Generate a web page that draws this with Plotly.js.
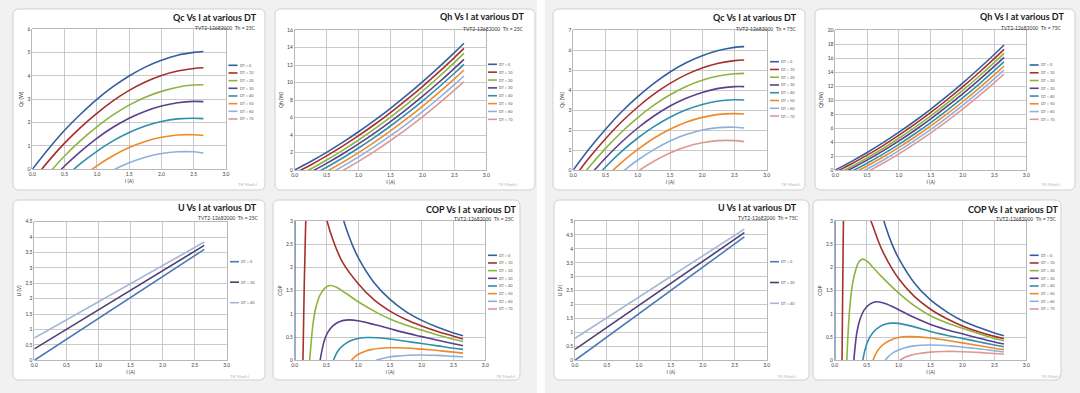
<!DOCTYPE html>
<html><head><meta charset="utf-8">
<script src="https://cdn.plot.ly/plotly-3.0.1.min.js"></script>
<style>html,body{margin:0;padding:0;background:#f2f2f2;}#chart{width:1080px;height:393px;}</style>
</head><body><div id="chart"></div>
<script>
// ---------- DATA ----------
const dtLabels = ['DT = 0','DT = 10','DT = 20','DT = 30','DT = 40','DT = 50','DT = 60','DT = 70'];
const uLabels = ['DT = 0','DT = 20','DT = 40'];
const I_grid = [0,0.25,0.5,0.75,1.0,1.25,1.5,1.75,2.0,2.25,2.5,2.65];
const I_u = [0,0.5,1.0,1.5,2.0,2.5,2.65];

// Qc, Th = 25C
const qc25_dt0  = [0,0.87,1.67,2.37,3.00,3.54,4.00,4.38,4.67,4.89,5.01,5.05];
const qc25_dt10 = [-0.50,0.35,1.12,1.80,2.40,2.93,3.38,3.74,4.02,4.21,4.32,4.35];
const qc25_dt20 = [-1.02,-0.19,0.57,1.24,1.82,2.33,2.75,3.09,3.34,3.52,3.61,3.62];
const qc25_dt30 = [-1.38,-0.58,0.14,0.77,1.33,1.80,2.19,2.49,2.71,2.85,2.91,2.90];
const qc25_dt40 = [-1.83,-1.06,-0.36,0.25,0.77,1.22,1.58,1.86,2.05,2.16,2.19,2.17];
const qc25_dt50 = [-2.39,-1.63,-0.95,-0.36,0.15,0.58,0.93,1.19,1.37,1.47,1.48,1.45];
const qc25_dt60 = [-2.90,-2.17,-1.51,-0.94,-0.45,-0.04,0.28,0.52,0.68,0.75,0.75,0.70];
const qc25_dt70 = [-3.65,-2.93,-2.30,-1.75,-1.28,-0.90,-0.60,-0.38,-0.24,-0.19,-0.22,-0.28];

// Qh, Th = 25C
const qh25_dt0  = [0,0.97,2.02,3.15,4.37,5.67,7.05,8.52,10.07,11.70,13.41,14.48];
const qh25_dt10 = [-0.37,0.58,1.61,2.73,3.92,5.20,6.57,8.01,9.54,11.15,12.85,13.90];
const qh25_dt20 = [-0.82,0.12,1.14,2.24,3.43,4.70,6.05,7.48,9.00,10.60,12.28,13.33];
const qh25_dt30 = [-1.13,-0.23,0.76,1.83,2.98,4.21,5.53,6.93,8.41,9.97,11.62,12.65];
const qh25_dt40 = [-1.54,-0.65,0.32,1.37,2.51,3.73,5.03,6.41,7.88,9.43,11.06,12.08];
const qh25_dt50 = [-1.98,-1.11,-0.16,0.87,1.99,3.19,4.47,5.83,7.28,8.81,10.42,11.43];
const qh25_dt60 = [-2.35,-1.51,-0.59,0.41,1.50,2.67,3.92,5.25,6.67,8.17,9.75,10.74];
const qh25_dt70 = [-2.78,-1.97,-1.07,-0.08,0.98,2.13,3.37,4.68,6.08,7.56,9.12,10.10];

// U, Th = 25C
const u25_dt0  = [0,0.68,1.36,2.04,2.72,3.40,3.60];
const u25_dt20 = [0.37,1.00,1.64,2.27,2.91,3.54,3.73];
const u25_dt40 = [0.72,1.31,1.90,2.49,3.07,3.66,3.84];

// COP, Th = 25C
const cop25_dt0_I  = [0,0.05,0.1,0.2,0.3,0.4,0.5,0.6,0.7,0.8,0.9,1.0,1.25,1.5,1.75,2.0,2.25,2.5,2.65];
const cop25_dt0    = [0,53,26.5,13.0,8.5,6.26,4.91,4.01,3.37,2.88,2.51,2.21,1.67,1.31,1.05,0.86,0.71,0.59,0.53];
const cop25_dt10_I = [0.13,0.15,0.17,0.2,0.25,0.3,0.4,0.5,0.6,0.75,1.0,1.25,1.5,1.75,2.0,2.25,2.5,2.65];
const cop25_dt10   = [0,1.6,2.8,3.8,4.3,4.3,3.75,3.05,2.6,2.12,1.65,1.30,1.06,0.88,0.74,0.62,0.52,0.46];
const cop25_dt20_I = [0.236,0.26,0.29,0.33,0.4,0.48,0.55,0.65,0.8,1.0,1.25,1.5,1.75,2.0,2.25,2.5,2.65];
const cop25_dt20   = [0,0.4,0.8,1.12,1.41,1.56,1.61,1.58,1.45,1.26,1.06,0.89,0.76,0.65,0.545,0.455,0.405];
const cop25_dt30_I = [0.40,0.43,0.47,0.52,0.6,0.7,0.85,1.0,1.25,1.5,1.75,2.0,2.25,2.5,2.65];
const cop25_dt30   = [0,0.22,0.44,0.6,0.74,0.83,0.87,0.85,0.77,0.68,0.59,0.51,0.43,0.355,0.315];
const cop25_dt40_I = [0.61,0.65,0.7,0.8,0.9,1.0,1.15,1.3,1.5,1.75,2.0,2.25,2.5,2.65];
const cop25_dt40   = [0,0.13,0.24,0.36,0.43,0.47,0.49,0.485,0.46,0.41,0.36,0.31,0.26,0.235];
const cop25_dt50_I = [0.89,0.95,1.0,1.1,1.2,1.35,1.5,1.75,2.0,2.25,2.5,2.65];
const cop25_dt50   = [0,0.08,0.13,0.19,0.23,0.26,0.27,0.265,0.24,0.21,0.175,0.155];
const cop25_dt60_I = [1.28,1.35,1.45,1.6,1.8,2.0,2.25,2.5,2.65];
const cop25_dt60   = [0,0.03,0.06,0.09,0.11,0.115,0.105,0.085,0.075];
const cop25_dt70_I = [2.0,2.3,2.65];
const cop25_dt70   = [-0.2,-0.15,-0.2];

// Qc, Th = 75C
const qc75_dt0  = [0,1.07,2.04,2.91,3.67,4.33,4.90,5.36,5.71,5.97,6.13,6.17];
const qc75_dt10 = [-0.43,0.62,1.56,2.41,3.15,3.79,4.33,4.77,5.10,5.34,5.47,5.50];
const qc75_dt20 = [-0.87,0.16,1.08,1.90,2.62,3.24,3.76,4.18,4.49,4.70,4.81,4.83];
const qc75_dt30 = [-1.30,-0.30,0.60,1.40,2.10,2.70,3.20,3.59,3.88,4.08,4.17,4.17];
const qc75_dt40 = [-1.71,-0.73,0.15,0.93,1.60,2.17,2.64,3.01,3.28,3.45,3.51,3.50];
const qc75_dt50 = [-2.19,-1.23,-0.38,0.38,1.03,1.59,2.04,2.39,2.63,2.78,2.82,2.80];
const qc75_dt60 = [-2.63,-1.70,-0.87,-0.13,0.50,1.02,1.45,1.77,2.00,2.12,2.14,2.10];
const qc75_dt70 = [-3.12,-2.21,-1.39,-0.68,-0.07,0.44,0.85,1.16,1.36,1.47,1.47,1.42];

// Qh, Th = 75C
const qh75_dt0  = [0,1.20,2.50,3.90,5.40,7.00,8.71,10.51,12.42,14.43,16.54,17.86];
const qh75_dt10 = [-0.32,0.85,2.12,3.49,4.97,6.54,8.22,10.00,11.88,13.86,15.94,17.24];
const qh75_dt20 = [-0.68,0.47,1.72,3.07,4.53,6.08,7.74,9.50,11.36,13.32,15.38,16.67];
const qh75_dt30 = [-0.93,0.19,1.41,2.73,4.15,5.68,7.31,9.04,10.87,12.80,14.83,16.10];
const qh75_dt40 = [-1.33,-0.23,0.97,2.27,3.67,5.18,6.78,8.49,10.30,12.21,14.22,15.48];
const qh75_dt50 = [-1.67,-0.60,0.58,1.85,3.23,4.71,6.29,7.97,9.75,11.63,13.62,14.86];
const qh75_dt60 = [-2.07,-1.01,0.14,1.40,2.76,4.23,5.79,7.45,9.22,11.09,13.06,14.29];
const qh75_dt70 = [-2.44,-1.40,-0.27,0.97,2.31,3.76,5.30,6.95,8.69,10.54,12.49,13.71];

// U, Th = 75C
const u75_dt0  = [0,0.84,1.67,2.51,3.34,4.18,4.43];
const u75_dt20 = [0.39,1.18,1.97,2.76,3.55,4.34,4.58];
const u75_dt40 = [0.79,1.53,2.27,3.01,3.75,4.49,4.71];

// COP, Th = 75C
const cop75_dt0_I  = [0,0.05,0.1,0.2,0.3,0.4,0.5,0.6,0.7,0.8,0.9,1.0,1.25,1.5,1.75,2.0,2.25,2.5,2.65];
const cop75_dt0    = [0,53,26.3,12.9,8.45,6.22,4.88,3.98,3.35,2.87,2.49,2.2,1.66,1.3,1.05,0.85,0.71,0.59,0.53];
const cop75_dt10_I = [0.115,0.125,0.135,0.15,0.2,0.3,0.4,0.5,0.6,0.75,1.0,1.25,1.5,1.75,2.0,2.25,2.5,2.65];
const cop75_dt10   = [0,1.5,2.8,3.5,4.0,4.0,3.6,3.25,2.88,2.35,1.76,1.37,1.1,0.9,0.74,0.615,0.515,0.465];
const cop75_dt20_I = [0.19,0.21,0.24,0.28,0.33,0.38,0.44,0.52,0.6,0.75,1.0,1.25,1.5,1.75,2.0,2.25,2.5,2.65];
const cop75_dt20   = [0,0.6,1.2,1.65,1.95,2.12,2.18,2.12,2.0,1.78,1.45,1.17,0.96,0.81,0.69,0.58,0.47,0.42];
const cop75_dt30_I = [0.30,0.32,0.35,0.4,0.46,0.55,0.65,0.75,0.9,1.0,1.25,1.5,1.75,2.0,2.25,2.5,2.65];
const cop75_dt30   = [0,0.3,0.62,0.9,1.08,1.21,1.26,1.24,1.16,1.09,0.92,0.77,0.66,0.57,0.48,0.395,0.35];
const cop75_dt40_I = [0.44,0.47,0.52,0.6,0.7,0.8,0.9,1.0,1.25,1.5,1.75,2.0,2.25,2.5,2.65];
const cop75_dt40   = [0,0.2,0.42,0.6,0.72,0.78,0.8,0.795,0.72,0.62,0.54,0.47,0.4,0.33,0.29];
const cop75_dt50_I = [0.60,0.64,0.7,0.8,0.9,1.0,1.15,1.3,1.5,1.75,2.0,2.25,2.5,2.65];
const cop75_dt50   = [0,0.13,0.26,0.38,0.45,0.49,0.51,0.505,0.48,0.43,0.375,0.32,0.26,0.23];
const cop75_dt60_I = [0.79,0.84,0.9,1.0,1.1,1.25,1.45,1.65,1.85,2.0,2.25,2.5,2.65];
const cop75_dt60   = [0,0.08,0.15,0.22,0.27,0.31,0.33,0.325,0.305,0.285,0.25,0.205,0.18];
const cop75_dt70_I = [1.02,1.08,1.15,1.3,1.5,1.7,1.9,2.1,2.3,2.5,2.65];
const cop75_dt70   = [0,0.05,0.09,0.14,0.175,0.19,0.19,0.18,0.165,0.145,0.13];

// ---------- STYLE / LAYOUT ----------
const C  = ['#355e9e','#a5302e','#8db43e','#5b3f8a','#2f8fae','#ec8a2c','#8fb0da','#dc9896'];
const CU = ['#4a7ab8','#4c3d73','#a3b5d9'];
const FONT = 'Lato, "Liberation Sans", Arial, sans-serif';

function grid8(ys){ return ys.map((y,i)=>({x:I_grid,y:y,color:C[i],name:dtLabels[i]})); }
function cop8(xs,ys){ return ys.map((y,i)=>({x:xs[i],y:y,color:C[i],name:dtLabels[i]})); }
function u3(ys){ return ys.map((y,i)=>({x:I_u,y:y,color:CU[i],name:uLabels[i],linear:true})); }

const sub25 = 'TVT2-12682000  Th = 25C';
const sub75 = 'TVT2-12682000  Th = 75C';

const panels = [
 {plot:[32.3,29.3,226,169.3], card:[13,9,265,190], yr:[0,6], dt:1, yt:'Qc (W)', title:'Qc Vs I at various DT', tR:258, tY:17, sub:sub25, sR:257, sY:28.5,
  leg:{x:228.5,y0:65.3,dy:7.67}, wm:[258,184], series:grid8([qc25_dt0,qc25_dt10,qc25_dt20,qc25_dt30,qc25_dt40,qc25_dt50,qc25_dt60,qc25_dt70])},
 {plot:[294.7,30,486.3,170], card:[275,9,535,190], yr:[0,16], dt:2, yt:'Qh (W)', title:'Qh Vs I at various DT', tR:524.7, tY:16.7, sub:sub25, sR:524.7, sY:29,
  leg:{x:488,y0:64.3,dy:7.86}, wm:[518,184.3], series:grid8([qh25_dt0,qh25_dt10,qh25_dt20,qh25_dt30,qh25_dt40,qh25_dt50,qh25_dt60,qh25_dt70])},
 {plot:[34.3,221.7,226.7,360.3], card:[13,200,265,380], yr:[0,4.5], dt:0.5, yt:'U (V)', title:'U Vs I at various DT', tR:258.3, tY:207.7, sub:sub25, sR:260, sY:218.3,
  leg:{x:230,y0:261.7,dy:20.5}, wm:[250,376.7], series:u3([u25_dt0,u25_dt20,u25_dt40])},
 {plot:[294.7,221,485.3,360.3], card:[273,200,520,380], yr:[0,3], dt:0.5, yt:'COP', title:'COP Vs I at various DT', tR:518, tY:209, sub:sub25, sR:516, sY:219,
  leg:{x:488,y0:255.3,dy:7.67}, wm:[516,376.7],
  series:cop8([cop25_dt0_I,cop25_dt10_I,cop25_dt20_I,cop25_dt30_I,cop25_dt40_I,cop25_dt50_I,cop25_dt60_I,cop25_dt70_I],
              [cop25_dt0,cop25_dt10,cop25_dt20,cop25_dt30,cop25_dt40,cop25_dt50,cop25_dt60,cop25_dt70])},
 {plot:[573.3,30,766.7,170], card:[553,9,805,190], yr:[0,7], dt:1, yt:'Qc (W)', title:'Qc Vs I at various DT', tR:798, tY:17, sub:sub75, sR:798, sY:29,
  leg:{x:770,y0:61.7,dy:7.76}, wm:[801,184], series:grid8([qc75_dt0,qc75_dt10,qc75_dt20,qc75_dt30,qc75_dt40,qc75_dt50,qc75_dt60,qc75_dt70])},
 {plot:[835.3,30,1026.3,170], card:[815,9,1075,190], yr:[0,20], dt:2, yt:'Qh (W)', title:'Qh Vs I at various DT', tR:1064.7, tY:16.7, sub:sub75, sR:1063, sY:28.3,
  leg:{x:1029.7,y0:65,dy:7.76}, wm:[1061,184.3], series:grid8([qh75_dt0,qh75_dt10,qh75_dt20,qh75_dt30,qh75_dt40,qh75_dt50,qh75_dt60,qh75_dt70])},
 {plot:[575,221,766.7,360.3], card:[554,200,809,380], yr:[0,5], dt:0.5, yt:'U (V)', title:'U Vs I at various DT', tR:798, tY:207.7, sub:sub75, sR:800, sY:218,
  leg:{x:770,y0:261.7,dy:20.8}, wm:[797,376.7], series:u3([u75_dt0,u75_dt20,u75_dt40])},
 {plot:[834.7,221,1026.3,360.3], card:[813,200,1061,380], yr:[0,3], dt:0.5, yt:'COP', title:'COP Vs I at various DT', tR:1059.7, tY:209, sub:sub75, sR:1058, sY:219,
  leg:{x:1029.7,y0:255.3,dy:7.67}, wm:[1061,376.7],
  series:cop8([cop75_dt0_I,cop75_dt10_I,cop75_dt20_I,cop75_dt30_I,cop75_dt40_I,cop75_dt50_I,cop75_dt60_I,cop75_dt70_I],
              [cop75_dt0,cop75_dt10,cop75_dt20,cop75_dt30,cop75_dt40,cop75_dt50,cop75_dt60,cop75_dt70])}
];

const W=1080, H=393;
const px = v => v/W, py = v => 1 - v/H;
function rr(x0,y0,x1,y1,r){
  const X=v=>px(v).toFixed(5), Y=v=>py(v).toFixed(5);
  return `M${X(x0+r)},${Y(y0)} L${X(x1-r)},${Y(y0)} Q${X(x1)},${Y(y0)} ${X(x1)},${Y(y0+r)} L${X(x1)},${Y(y1-r)} Q${X(x1)},${Y(y1)} ${X(x1-r)},${Y(y1)} L${X(x0+r)},${Y(y1)} Q${X(x0)},${Y(y1)} ${X(x0)},${Y(y1-r)} L${X(x0)},${Y(y0+r)} Q${X(x0)},${Y(y0)} ${X(x0+r)},${Y(y0)} Z`;
}

const traces=[], shapes=[], annotations=[];
const layout = {width:W, height:H, margin:{l:0,r:0,t:0,b:0}, paper_bgcolor:'#f1f1f1', plot_bgcolor:'#ffffff',
  showlegend:false, hovermode:false, font:{family:FONT, color:'#404040'}};

// white separator between the two panels
shapes.push({type:'rect', xref:'paper', yref:'paper', x0:px(537), x1:px(545), y0:0, y1:1, fillcolor:'#ffffff', line:{width:0}, layer:'below'});

panels.forEach((p,k)=>{
  const n=k+1, sfx=(n===1?'':String(n));
  const xr='x'+sfx, yr='y'+sfx;
  const axisCommon = {showgrid:true, gridcolor:'#bdbdbd', gridwidth:0.8, showline:true, mirror:true, linecolor:'#a6a6a6', linewidth:0.8,
    zeroline:false, ticks:'', tickfont:{size:5, color:'#404040', family:FONT}, fixedrange:true};
  layout['xaxis'+sfx] = Object.assign({}, axisCommon, {domain:[px(p.plot[0]),px(p.plot[2])], anchor:yr, range:[0,3], dtick:0.5, tick0:0,
    tickformat:'.1f', title:{text:'I (A)', font:{size:5, color:'#404040', family:FONT}, standoff:3}});
  layout['yaxis'+sfx] = Object.assign({}, axisCommon, {domain:[py(p.plot[3]),py(p.plot[1])], anchor:xr, range:p.yr, dtick:p.dt, tick0:0,
    title:{text:p.yt, font:{size:5, color:'#404040', family:FONT}, standoff:3}});

  shapes.push({type:'path', xref:'paper', yref:'paper', path:rr(p.card[0],p.card[1],p.card[2],p.card[3],6),
    fillcolor:'#ffffff', line:{color:'#cfcfcf', width:1}, layer:'below'});

  p.series.forEach((s,j)=>{
    traces.push({type:'scatter', mode:'lines', x:s.x, y:s.y, xaxis:xr, yaxis:yr, name:s.name,
      line:{color:s.color, width:1.6, shape:s.linear?'linear':'spline', smoothing:1}, hoverinfo:'skip'});
    const ly = p.leg.y0 + j*p.leg.dy;
    shapes.push({type:'line', xref:'paper', yref:'paper', x0:px(p.leg.x), x1:px(p.leg.x+9), y0:py(ly), y1:py(ly),
      line:{color:s.color, width:1.6}, layer:'above'});
    annotations.push({xref:'paper', yref:'paper', x:px(p.leg.x+10), y:py(ly), xanchor:'left', yanchor:'middle', showarrow:false,
      text:s.name, font:{size:3.8, color:'#595959', family:FONT}, borderpad:0});
  });

  annotations.push({xref:'paper', yref:'paper', x:px(p.tR), y:py(p.tY), xanchor:'right', yanchor:'middle', showarrow:false,
    text:'<b>'+p.title+'</b>', font:{size:9, color:'#1a1a1a', family:FONT}, borderpad:0});
  annotations.push({xref:'paper', yref:'paper', x:px(p.sR), y:py(p.sY), xanchor:'right', yanchor:'middle', showarrow:false,
    text:p.sub, font:{size:5, color:'#333333', family:FONT}, borderpad:0});
  annotations.push({xref:'paper', yref:'paper', x:px(p.wm[0]), y:py(p.wm[1]), xanchor:'right', yanchor:'middle', showarrow:false,
    text:'TE Model', font:{size:4.5, color:'#b8b8b8', family:FONT}, borderpad:0});
});

layout.shapes = shapes;
layout.annotations = annotations;
Plotly.newPlot('chart', traces, layout, {staticPlot:true, displayModeBar:false});
</script>
</body></html>
